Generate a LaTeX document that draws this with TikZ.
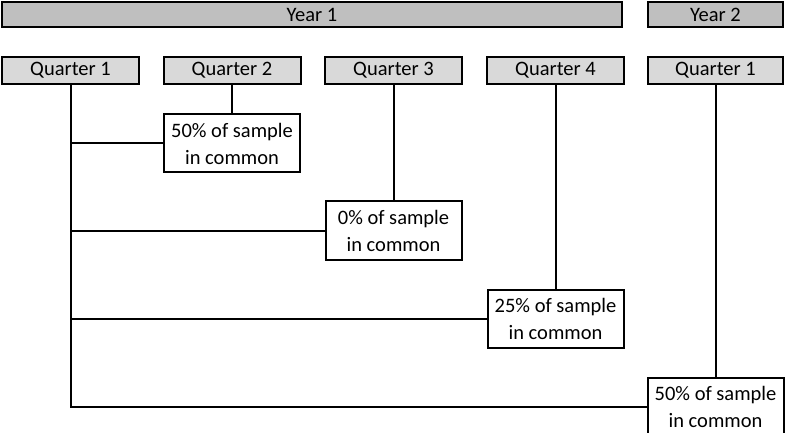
\documentclass[tikz,border=0pt]{standalone}
\usepackage{fontspec}
\setmainfont{Carlito}
\begin{document}
\begin{tikzpicture}[x=1pt,y=-1pt,
  yearbox/.style={draw=black,line width=2pt,fill=yearfill,minimum height=25pt,inner sep=0pt,font=\fontsize{20.5}{24}\selectfont},
  qbox/.style={draw=black,line width=2pt,fill=qfill,minimum width=137pt,minimum height=27pt,inner sep=0pt,font=\fontsize{20.5}{24}\selectfont},
  sbox/.style={draw=black,line width=2pt,fill=white,minimum width=136pt,minimum height=58pt,inner sep=0pt,align=center,font=\fontsize{20.5}{27}\selectfont},
  conn/.style={line width=2pt}]
\definecolor{yearfill}{HTML}{BFBFBF}
\definecolor{qfill}{HTML}{D9D9D9}
\useasboundingbox (0,0) rectangle (785,433);
\node[yearbox,minimum width=620pt] (y1) at (312,14.5) {Year 1};
\node[yearbox,minimum width=135pt] (y2) at (715.5,14.5) {Year 2};
\node[qbox] (q1) at (70.5,70.5) {Quarter 1};
\node[qbox] (q2) at (232,70.5) {Quarter 2};
\node[qbox] (q3) at (393.5,70.5) {Quarter 3};
\node[qbox] (q4) at (555.5,70.5) {Quarter 4};
\node[qbox,minimum width=135pt] (q5) at (715.5,70.5) {Quarter 1};
\node[sbox] (b1) at (232,143.5) {50\% of sample\\in common};
\node[sbox] (b2) at (393.5,230.5) {0\% of sample\\in common};
\node[sbox] (b3) at (555.5,319) {25\% of sample\\in common};
\node[sbox] (b4) at (715.5,406.5) {50\% of sample\\in common};
\draw[conn] (q2.south) -- (b1.north);
\draw[conn] (q3.south) -- (b2.north);
\draw[conn] (q4.south) -- (b3.north);
\draw[conn] (q5.south) -- (b4.north);
\draw[conn] (q1.south) -- (q1.south |- b4.west) -- (b4.west);
\draw[conn] (q1.south |- b1.west) -- (b1.west);
\draw[conn] (q1.south |- b2.west) -- (b2.west);
\draw[conn] (q1.south |- b3.west) -- (b3.west);
\end{tikzpicture}
\end{document}
